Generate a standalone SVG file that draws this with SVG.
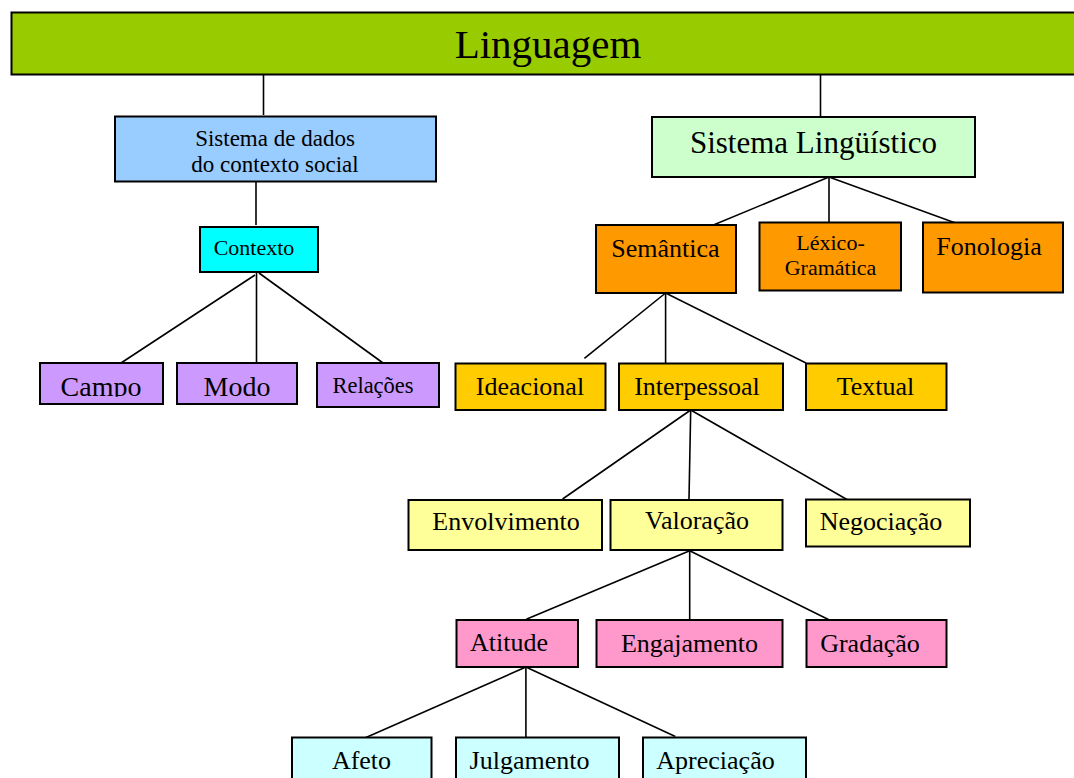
<svg xmlns="http://www.w3.org/2000/svg" width="1074" height="778" viewBox="0 0 1074 778">
<style>
rect.box{stroke:#000;stroke-width:2}
text{font-family:"Liberation Serif","Times New Roman",serif;fill:#000;text-anchor:middle;font-size:26px}
text.f41{font-size:41px}text.f31{font-size:31px}text.f28{font-size:28px}text.f23{font-size:23px}text.f22{font-size:22px}
#connectors line{stroke:#000;stroke-width:1.6}
.green{fill:#99CC00}.blue{fill:#99CCFF}.lgreen{fill:#CCFFCC}.cyan{fill:#00FFFF}.purple{fill:#CC99FF}
.orange{fill:#FF9900}.gold{fill:#FFCC00}.yellow{fill:#FFFF99}.pink{fill:#FF99CC}.lcyan{fill:#CCFFFF}
</style>
<defs>
<clipPath id="clipCM"><rect x="0" y="300" width="320" height="96.8"/></clipPath>
</defs>
<rect width="1074" height="778" fill="#fff"/>
<g id="connectors">
<line x1="263.5" y1="75" x2="263.5" y2="115"/>
<line x1="820.5" y1="75" x2="820.5" y2="116"/>
<line x1="256" y1="182" x2="256" y2="225"/>
<line x1="255" y1="275" x2="121" y2="363"/>
<line x1="256.5" y1="273" x2="256.5" y2="363"/>
<line x1="259" y1="273" x2="383" y2="363"/>
<line x1="829" y1="177" x2="711" y2="226"/>
<line x1="829" y1="177" x2="829" y2="222"/>
<line x1="829" y1="177" x2="961" y2="225"/>
<line x1="665.6" y1="293" x2="584.4" y2="358.3"/>
<line x1="665.6" y1="293" x2="665.6" y2="363"/>
<line x1="665.6" y1="293" x2="806" y2="363"/>
<line x1="690.7" y1="410" x2="562.6" y2="499"/>
<line x1="690.7" y1="410" x2="689" y2="499"/>
<line x1="690.7" y1="410" x2="853.5" y2="503.3"/>
<line x1="689.7" y1="550.7" x2="526.3" y2="619.3"/>
<line x1="689.7" y1="550.7" x2="689.7" y2="620"/>
<line x1="689.7" y1="550.7" x2="829.4" y2="620"/>
<line x1="525.9" y1="667" x2="362" y2="739.3"/>
<line x1="525.9" y1="667" x2="525.9" y2="737"/>
<line x1="525.9" y1="667" x2="675.3" y2="736.5"/>
</g>
<g id="linguagem"><rect class="box green" x="11.5" y="12.5" width="1070" height="62"/><text class="f41" x="548" y="58">Linguagem</text></g>
<g id="sistema-dados"><rect class="box blue" x="115" y="116.5" width="321" height="65"/><text class="f23" x="275" y="145.5">Sistema de dados</text><text class="f23" x="275" y="172">do contexto social</text></g>
<g id="sistema-linguistico"><rect class="box lgreen" x="652" y="117" width="323" height="60"/><text class="f31" x="813.5" y="152.5">Sistema Lingüístico</text></g>
<g id="contexto"><rect class="box cyan" x="200" y="227" width="118" height="45"/><text class="f22" x="254" y="255">Contexto</text></g>
<g id="campo"><rect class="box purple" x="40" y="363" width="123" height="41"/><text class="f28" x="101" y="396" clip-path="url(#clipCM)">Campo</text></g>
<g id="modo"><rect class="box purple" x="177" y="363" width="120" height="41"/><text class="f28" x="237" y="396" clip-path="url(#clipCM)">Modo</text></g>
<g id="relacoes"><rect class="box purple" x="317" y="363" width="122" height="44"/><text class="f22" x="373" y="393" style="font-size:22.5px">Relações</text></g>
<g id="semantica"><rect class="box orange" x="596" y="225" width="140" height="68"/><text x="665.5" y="256.5">Semântica</text></g>
<g id="lexico-gramatica"><rect class="box orange" x="759.5" y="222.5" width="141.5" height="68"/><text class="f22" x="830.5" y="250">Léxico-</text><text class="f22" x="830.5" y="275">Gramática</text></g>
<g id="fonologia"><rect class="box orange" x="923" y="222.5" width="140" height="70"/><text x="989" y="254.5">Fonologia</text></g>
<g id="ideacional"><rect class="box gold" x="455.5" y="363.5" width="150" height="46.5"/><text x="530" y="394.5">Ideacional</text></g>
<g id="interpessoal"><rect class="box gold" x="619" y="363.5" width="164" height="46.5"/><text x="697" y="394.5">Interpessoal</text></g>
<g id="textual"><rect class="box gold" x="806" y="363.5" width="140.5" height="46.5"/><text x="875.5" y="394.5">Textual</text></g>
<g id="envolvimento"><rect class="box yellow" x="408.5" y="500" width="193.5" height="50"/><text x="506" y="530">Envolvimento</text></g>
<g id="valoracao"><rect class="box yellow" x="610.5" y="500" width="172" height="50"/><text x="697" y="529">Valoração</text></g>
<g id="negociacao"><rect class="box yellow" x="806" y="499.5" width="164" height="47"/><text x="881" y="530">Negociação</text></g>
<g id="atitude"><rect class="box pink" x="456.5" y="620" width="121.5" height="47"/><text x="509" y="651">Atitude</text></g>
<g id="engajamento"><rect class="box pink" x="596.5" y="620" width="186" height="47"/><text x="689.5" y="651.5">Engajamento</text></g>
<g id="gradacao"><rect class="box pink" x="806.5" y="620" width="140" height="47"/><text x="870" y="651.5">Gradação</text></g>
<g id="afeto"><rect class="box lcyan" x="292" y="737.5" width="139.5" height="60"/><text x="361.5" y="768.5">Afeto</text></g>
<g id="julgamento"><rect class="box lcyan" x="456" y="737.5" width="163" height="60"/><text x="529.5" y="768.5">Julgamento</text></g>
<g id="apreciacao"><rect class="box lcyan" x="643" y="737.5" width="163" height="60"/><text x="715.5" y="768.5">Apreciação</text></g>
</svg>
